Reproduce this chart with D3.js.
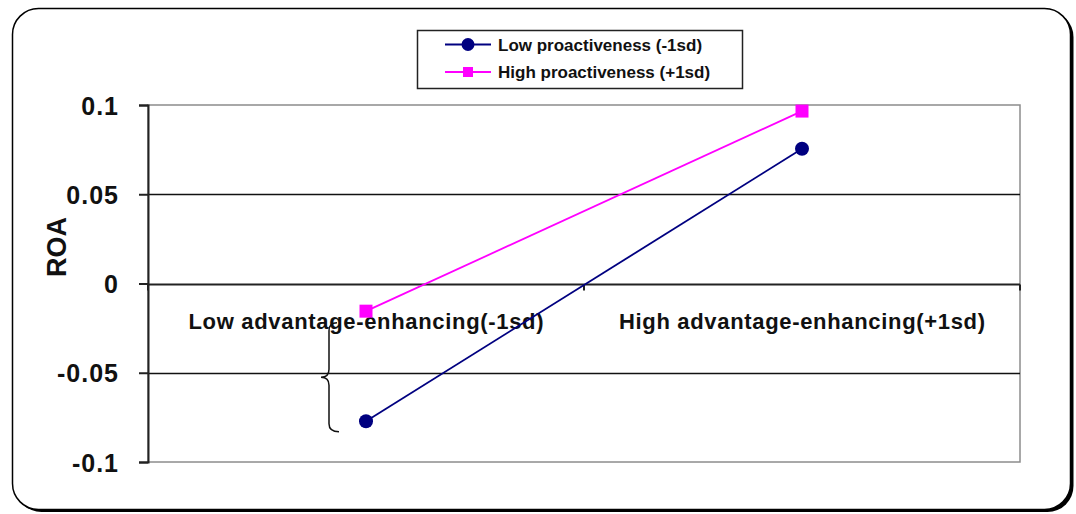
<!DOCTYPE html>
<html>
<head>
<meta charset="utf-8">
<script src="https://cdn.jsdelivr.net/npm/d3@7/dist/d3.min.js"></script>
<style>
  html, body { margin: 0; padding: 0; background: #fff; }
  svg { display: block; }
  text { font-family: "Liberation Sans", Arial, sans-serif; }
</style>
</head>
<body>
<svg id="chart" width="1076" height="514"></svg>
<script>
// Simple-slope interaction plot: ROA by advantage-enhancing level
const categories = ["Low advantage-enhancing(-1sd)", "High advantage-enhancing(+1sd)"];
const seriesNames = ["Low proactiveness (-1sd)", "High proactiveness (+1sd)"];
const lowProactiveness = [-0.0772, 0.0755];
const highProactiveness = [-0.0155, 0.0966];
const yTicks = [-0.1, -0.05, 0, 0.05, 0.1];
const yTickLabels = ["-0.1", "-0.05", "0", "0.05", "0.1"];
const yTitle = "ROA";
// bracket marking the gap at the low end of the x range
const braceRange = [-0.022, -0.083];

const seriesColors = ["#000080", "#ff00ff"];
const seriesData = [lowProactiveness, highProactiveness];

const svg = d3.select("#chart");

// outer rounded frame with drop shadow
svg.append("rect")
  .attr("x", 15.5).attr("y", 11).attr("width", 1058).attr("height", 501)
  .attr("rx", 26).attr("fill", "#000");
svg.append("rect")
  .attr("x", 12.5).attr("y", 8.5).attr("width", 1058).attr("height", 501)
  .attr("rx", 26).attr("fill", "#fff").attr("stroke", "#000").attr("stroke-width", 1.5);

const plot = { left: 148, right: 1020, top: 105, bottom: 462 };

const x = d3.scalePoint().domain(categories)
  .range([plot.left, plot.right]).padding(0.5);
const y = d3.scaleLinear().domain([-0.1, 0.1]).range([plot.bottom, plot.top]);

// plot area border
svg.append("rect")
  .attr("x", plot.left).attr("y", plot.top)
  .attr("width", plot.right - plot.left).attr("height", plot.bottom - plot.top)
  .attr("fill", "#fff").attr("stroke", "#8c8c8c").attr("stroke-width", 1.5);

// horizontal gridlines
svg.append("g").selectAll("line")
  .data(yTicks.filter(t => t !== 0.1 && t !== -0.1 && t !== 0))
  .join("line")
  .attr("x1", plot.left).attr("x2", plot.right)
  .attr("y1", d => Math.round(y(d)) + 0.5).attr("y2", d => Math.round(y(d)) + 0.5)
  .attr("stroke", "#111").attr("stroke-width", 1.5);

// y axis
const yAxis = d3.axisLeft(y).tickValues(yTicks)
  .tickSize(9).tickPadding(20)
  .tickFormat((d, i) => yTickLabels[i]);
const gy = svg.append("g").attr("transform", `translate(${plot.left},0)`).call(yAxis);
gy.select(".domain").attr("stroke", "#222").attr("stroke-width", 2);
gy.selectAll(".tick line").attr("stroke", "#222").attr("stroke-width", 2);
gy.selectAll(".tick text")
  .attr("fill", "#111")
  .style("font-size", "25px").style("font-weight", "bold")
  .attr("letter-spacing", "1px")
  .attr("dy", "0.36em");

// category axis crossing at zero
const xBand = (plot.right - plot.left) / categories.length;
const zeroY = Math.round(y(0)) + 0.5;
svg.append("line")
  .attr("x1", plot.left).attr("x2", plot.right)
  .attr("y1", zeroY).attr("y2", zeroY)
  .attr("stroke", "#222").attr("stroke-width", 2);
const catBounds = d3.range(categories.length + 1).map(i => plot.left + i * xBand);
svg.append("g").selectAll("line").data(catBounds).join("line")
  .attr("x1", d => d).attr("x2", d => d)
  .attr("y1", zeroY).attr("y2", zeroY + 6)
  .attr("stroke", "#222").attr("stroke-width", 2);

// category labels just under the zero line
const catWidths = [355, 366];
svg.append("g").selectAll("text").data(categories).join("text")
  .attr("x", d => x(d)).attr("y", 329)
  .attr("text-anchor", "middle")
  .attr("textLength", (d, i) => catWidths[i])
  .attr("lengthAdjust", "spacing")
  .attr("fill", "#111")
  .style("font-size", "22px").style("font-weight", "bold")
  .text(d => d);

// y title
svg.append("text")
  .attr("transform", `translate(66,247) rotate(-90)`)
  .attr("text-anchor", "middle")
  .attr("fill", "#111")
  .style("font-size", "27px").style("font-weight", "bold")
  .text(yTitle);

// brace
const bx = x(categories[0]) - 37;
const bTop = y(braceRange[0]), bBot = y(braceRange[1]);
const bMid = (bTop + bBot) / 2;
const brace = d3.path();
brace.moveTo(bx + 8, bTop);
brace.quadraticCurveTo(bx, bTop, bx, bTop + 8);
brace.lineTo(bx, bMid - 8);
brace.quadraticCurveTo(bx, bMid, bx - 8, bMid);
brace.quadraticCurveTo(bx, bMid, bx, bMid + 8);
brace.lineTo(bx, bBot - 8);
brace.quadraticCurveTo(bx, bBot, bx + 10, bBot);
svg.append("path").attr("d", brace.toString())
  .attr("fill", "none").attr("stroke", "#111").attr("stroke-width", 1.5);

// series lines and markers
const line = d3.line().x((d, i) => x(categories[i])).y(d => y(d));
seriesData.forEach((vals, s) => {
  svg.append("path").datum(vals)
    .attr("d", line).attr("fill", "none")
    .attr("stroke", seriesColors[s]).attr("stroke-width", 1.8);
});
svg.append("g").selectAll("circle").data(lowProactiveness).join("circle")
  .attr("cx", (d, i) => x(categories[i])).attr("cy", d => y(d))
  .attr("r", 7).attr("fill", seriesColors[0]);
svg.append("g").selectAll("rect").data(highProactiveness).join("rect")
  .attr("x", (d, i) => x(categories[i]) - 6.5).attr("y", d => y(d) - 6.5)
  .attr("width", 13).attr("height", 13).attr("fill", seriesColors[1]);

// legend
const lg = svg.append("g");
lg.append("rect").attr("x", 417.5).attr("y", 30.5).attr("width", 325).attr("height", 58)
  .attr("fill", "#fff").attr("stroke", "#222").attr("stroke-width", 1.5);
const legendRowY = [44.5, 72];
seriesNames.forEach((name, s) => {
  const ry = legendRowY[s];
  lg.append("line").attr("x1", 445).attr("x2", 491).attr("y1", ry).attr("y2", ry)
    .attr("stroke", seriesColors[s]).attr("stroke-width", 1.8);
  if (s === 0) {
    lg.append("circle").attr("cx", 468).attr("cy", ry).attr("r", 6.5).attr("fill", seriesColors[s]);
  } else {
    lg.append("rect").attr("x", 463).attr("y", ry - 5).attr("width", 10).attr("height", 10)
      .attr("fill", seriesColors[s]);
  }
  lg.append("text").attr("x", 498).attr("y", ry + 6)
    .attr("fill", "#111")
    .style("font-size", "17px").style("font-weight", "bold")
    .text(name);
});
</script>
</body>
</html>
